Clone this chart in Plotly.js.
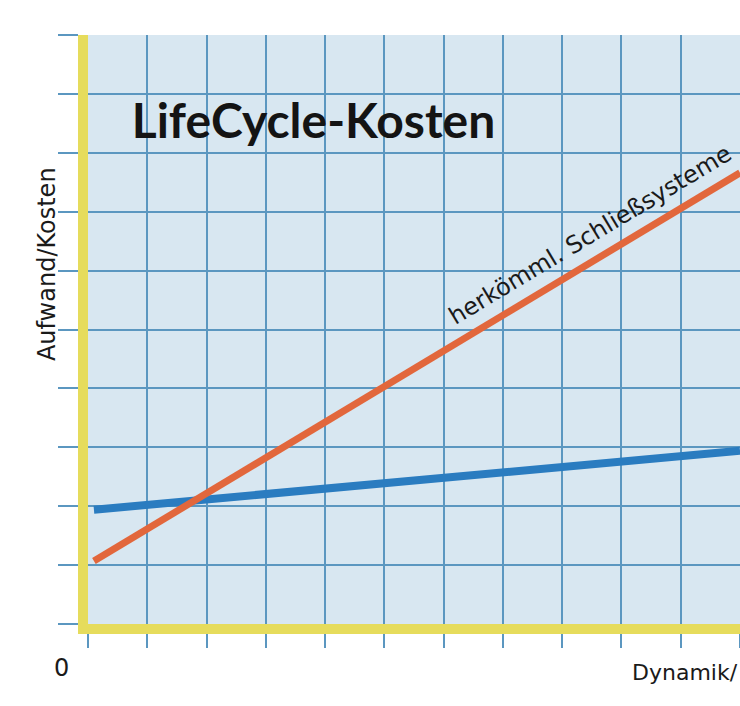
<!DOCTYPE html>
<html>
<head>
<meta charset="utf-8">
<script src="https://cdn.plot.ly/plotly-3.0.1.min.js"></script>
<style>html,body{margin:0;padding:0;background:#fff;}#chart{width:740px;height:706px;}</style>
</head>
<body>
<div id="chart"></div>
<script>
// Data (arbitrary units: Dynamik/… vs Aufwand/Kosten)
const conventionalX = [0.1, 11];
const conventionalY = [1.07, 7.66];
const lifecycleX = [0.1, 11];
const lifecycleY = [1.94, 2.94];
const conventionalLabel = "herkömml. Schließsysteme";
const chartTitle = "LifeCycle-Kosten";
const yTitle = "Aufwand/Kosten";
const xTitle = "Dynamik/";
const originLabel = "0";

const traces = [
  {x: lifecycleX, y: lifecycleY, mode: "lines", type: "scatter",
   line: {color: "#2a7cc0", width: 8}, hoverinfo: "skip", showlegend: false},
  {x: conventionalX, y: conventionalY, mode: "lines", type: "scatter",
   line: {color: "#e2673c", width: 7}, hoverinfo: "skip", showlegend: false}
];

const gridCol = "#5b97c0";
const labelFont = "'DejaVu Sans', sans-serif";
const layout = {
  width: 740, height: 706,
  margin: {l: 88, r: 0, t: 35, b: 82},
  paper_bgcolor: "#ffffff",
  plot_bgcolor: "#d8e7f1",
  showlegend: false,
  title: {
    text: chartTitle,
    font: {family: "Lato, 'Noto Sans', sans-serif", size: 48, color: "#141414", weight: 700},
    xref: "container", yref: "container",
    x: 0.178, xanchor: "left", y: 0.829, yanchor: "middle"
  },
  xaxis: {
    range: [0, 11], dtick: 1, tick0: 0,
    showgrid: true, gridcolor: gridCol, gridwidth: 2,
    zeroline: false,
    showline: true, linecolor: "#e6dc5c", linewidth: 10,
    ticks: "outside", ticklen: 14, tickwidth: 2, tickcolor: gridCol,
    showticklabels: false, fixedrange: true
  },
  yaxis: {
    range: [0, 10], dtick: 1, tick0: 0,
    showgrid: true, gridcolor: gridCol, gridwidth: 2,
    zeroline: false,
    showline: true, linecolor: "#e6dc5c", linewidth: 10,
    ticks: "outside", ticklen: 20, tickwidth: 2, tickcolor: gridCol,
    showticklabels: false, fixedrange: true
  },
  annotations: [
    {text: conventionalLabel, xref: "paper", yref: "paper", x: 0.77, y: 0.66,
     xanchor: "center", yanchor: "middle", textangle: -31, showarrow: false,
     font: {family: labelFont, size: 24, color: "#1a1a1a"}},
    {text: yTitle, xref: "paper", yref: "paper", x: -0.063, y: 0.611,
     xanchor: "center", yanchor: "middle", textangle: -90, showarrow: false,
     font: {family: labelFont, size: 24, color: "#1a1a1a"}},
    {text: xTitle, xref: "paper", yref: "paper", x: 1.0, y: -0.083,
     xanchor: "right", yanchor: "middle", showarrow: false,
     font: {family: labelFont, size: 22, color: "#1a1a1a"}},
    {text: originLabel, xref: "paper", yref: "paper", x: -0.04, y: -0.075,
     xanchor: "center", yanchor: "middle", showarrow: false,
     font: {family: labelFont, size: 24, color: "#1a1a1a"}}
  ]
};

Plotly.newPlot("chart", traces, layout, {staticPlot: true, displayModeBar: false});
</script>
</body>
</html>
